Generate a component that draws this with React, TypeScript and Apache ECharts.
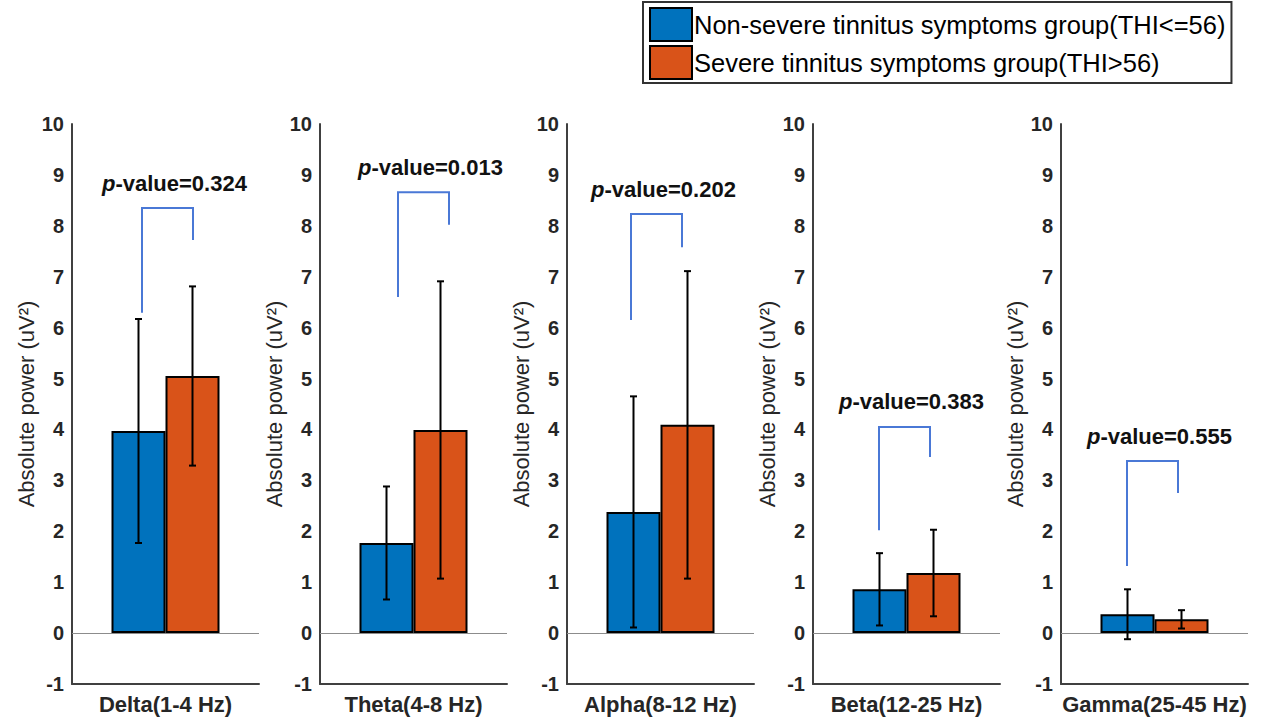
import React, { useEffect, useRef } from 'react';
import * as echarts from 'echarts';

const bands = ['Delta(1-4 Hz)', 'Theta(4-8 Hz)', 'Alpha(8-12 Hz)', 'Beta(12-25 Hz)', 'Gamma(25-45 Hz)'];
const groupNames = ['Non-severe tinnitus symptoms group(THI<=56)', 'Severe tinnitus symptoms group(THI>56)'];
const nonSevereMean = [3.97, 1.77, 2.38, 0.86, 0.37];
const nonSevereSD = [2.2, 1.11, 2.27, 0.71, 0.49];
const severeMean = [5.05, 3.99, 4.09, 1.18, 0.27];
const severeSD = [1.76, 2.92, 3.02, 0.85, 0.18];
const pValues = ['0.324', '0.013', '0.202', '0.383', '0.555'];
const bracketTop = [8.35, 8.66, 8.23, 4.05, 3.38];
const bracketLeftEnd = [6.29, 6.6, 6.15, 2.02, 1.32];
const bracketRightEnd = [7.72, 8.02, 7.58, 3.46, 2.75];
const yMin = -1;
const yMax = 10;
const yInterval = 1;

// layout / style
const PANEL_LEFT = [72, 320, 567, 813, 1061];
const PANEL_W = 187;
const BRACKET_SHIFT = [2, 10, -4, -2, -2];
const BAR_W = 54;
const COLORS = ['#0072BD', '#D95319'];
const FONT = '"Liberation Sans", Arial, sans-serif';
const AXIS_COLOR = '#404040';

export default function App() {
  const ref = useRef<HTMLDivElement>(null);
  useEffect(() => {
    if (!ref.current) return;
    const chart = echarts.init(ref.current, null, { renderer: 'svg' });
    const grids: any[] = [];
    const xAxes: any[] = [];
    const yAxes: any[] = [];
    const series: any[] = [];
    bands.forEach((band, i) => {
      grids.push({ left: PANEL_LEFT[i], top: 124, width: PANEL_W, height: 560, containLabel: false });
      xAxes.push({
        gridIndex: i,
        type: 'category',
        data: [band],
        axisLine: { show: true, onZero: false, lineStyle: { color: AXIS_COLOR, width: 2 } },
        axisTick: { show: false },
        axisLabel: { margin: 9, color: '#262626', fontSize: 22, fontWeight: 'bold', fontFamily: FONT },
      });
      yAxes.push({
        gridIndex: i,
        type: 'value',
        min: yMin,
        max: yMax,
        interval: yInterval,
        name: 'Absolute power (uV²)',
        nameLocation: 'middle',
        nameGap: 33,
        nameTextStyle: { color: '#262626', fontSize: 22, fontFamily: FONT },
        axisLine: { show: true, onZero: false, lineStyle: { color: AXIS_COLOR, width: 2 } },
        axisTick: { show: false },
        splitLine: { show: false },
        axisLabel: { margin: 8, color: '#262626', fontSize: 20, fontWeight: 'bold', fontFamily: FONT },
      });
      const means = [nonSevereMean[i], severeMean[i]];
      const sds = [nonSevereSD[i], severeSD[i]];
      groupNames.forEach((name, g) => {
        const s: any = {
          type: 'bar',
          name,
          xAxisIndex: i,
          yAxisIndex: i,
          data: [means[g]],
          barWidth: BAR_W,
          barGap: '0%',
          itemStyle: { color: COLORS[g], borderColor: '#000', borderWidth: 2 },
          z: 2,
        };
        if (g === 0) {
          s.markLine = {
            silent: true,
            symbol: ['none', 'none'],
            label: { show: false },
            lineStyle: { color: '#8c8c8c', width: 1, type: 'solid' },
            data: [{ yAxis: 0 }],
            z: 1,
          };
        }
        series.push(s);
      });
      // error bars
      series.push({
        type: 'custom',
        xAxisIndex: i,
        yAxisIndex: i,
        clip: false,
        z: 5,
        silent: true,
        data: [
          [0, means[0], sds[0]],
          [0, means[1], sds[1]],
        ],
        renderItem: (params: any, api: any) => {
          const side = params.dataIndex === 0 ? -1 : 1;
          const m = api.value(1);
          const sd = api.value(2);
          const top = api.coord([0, m + sd]);
          const bot = api.coord([0, m - sd]);
          const x = top[0] + (side * BAR_W) / 2;
          const st = { stroke: '#000', lineWidth: 2 };
          return {
            type: 'group',
            children: [
              { type: 'line', shape: { x1: x, y1: top[1], x2: x, y2: bot[1] }, style: st },
              { type: 'line', shape: { x1: x - 3.5, y1: top[1], x2: x + 3.5, y2: top[1] }, style: st },
              { type: 'line', shape: { x1: x - 3.5, y1: bot[1], x2: x + 3.5, y2: bot[1] }, style: st },
            ],
          };
        },
      });
      // significance bracket
      series.push({
        type: 'custom',
        xAxisIndex: i,
        yAxisIndex: i,
        clip: false,
        z: 6,
        silent: true,
        data: [[0, bracketLeftEnd[i], bracketTop[i], bracketRightEnd[i]]],
        renderItem: (params: any, api: any) => {
          const pl = api.coord([0, api.value(1)]);
          const pt = api.coord([0, api.value(2)]);
          const pr = api.coord([0, api.value(3)]);
          const c = pt[0] + BRACKET_SHIFT[i];
          const l = c - 25.5;
          const r = c + 25.5;
          return {
            type: 'group',
            children: [
              {
                type: 'polyline',
                shape: { points: [[l, pl[1]], [l, pt[1]], [r, pt[1]], [r, pr[1]]] },
                style: { stroke: '#4a78d6', lineWidth: 2, fill: 'none' },
              },
              {
                type: 'text',
                x: l - 40,
                y: pt[1] - 14,
                style: {
                  text: '{i|p}-value=' + pValues[i],
                  fontSize: 22,
                  fontWeight: 'bold',
                  fontFamily: FONT,
                  fill: '#111',
                  align: 'left',
                  verticalAlign: 'bottom',
                  rich: {
                    i: { fontStyle: 'italic', fontWeight: 'bold', fontSize: 22, fontFamily: FONT, fill: '#111' },
                  },
                },
              },
            ],
          };
        },
      });
    });
    chart.setOption({
      animation: false,
      backgroundColor: '#ffffff',
      legend: {
        data: groupNames,
        left: 643,
        top: 2,
        orient: 'vertical',
        icon: 'rect',
        itemWidth: 42,
        itemHeight: 33,
        itemGap: 3,
        padding: [5, 6, 3, 6],
        borderColor: '#333',
        borderWidth: 2,
        itemStyle: { borderColor: '#000', borderWidth: 2 },
        textStyle: { fontSize: 25.5, color: '#000', fontFamily: FONT, padding: [0, 0, 0, -3] },
        selectedMode: false,
      },
      grid: grids,
      xAxis: xAxes,
      yAxis: yAxes,
      series,
    });
    return () => chart.dispose();
  }, []);
  return (
    <div
      ref={ref}
      style={{ position: 'fixed', left: 0, top: 0, width: 1263, height: 718, background: '#fff' }}
    />
  );
}
